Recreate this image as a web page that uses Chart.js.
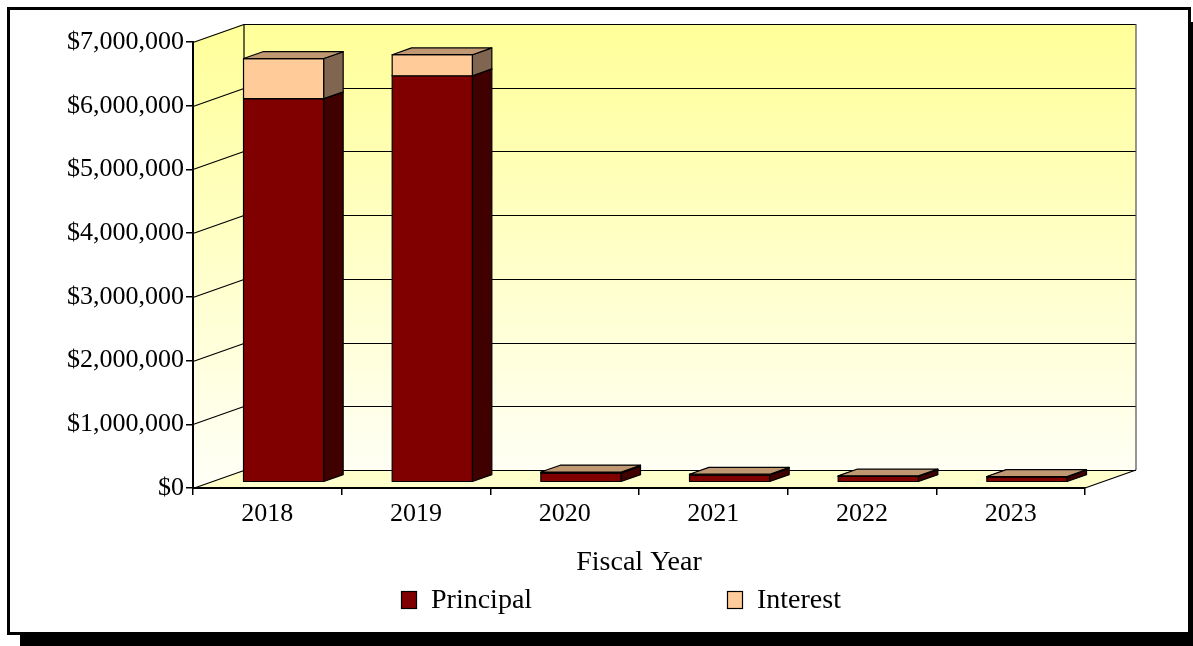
<!DOCTYPE html>
<html lang="en">
<head>
    <meta charset="UTF-8">
    <title>Debt Service by Fiscal Year</title>
    <script src="https://cdn.jsdelivr.net/npm/chart.js"></script>
    <style>
        body { margin: 0; background: #fff; }
        #myChart { display: block; }
    </style>
</head>
<body>
    <canvas id="myChart" width="1193" height="646"></canvas>

    <script>
        // fiscal years and payments
        const years = ['2018', '2019', '2020', '2021', '2022', '2023'];
        const principal = [6020000, 6380000, 148000, 116000, 92000, 85000];
        const interest = [630000, 330000, 12000, 10000, 8000, 5000];
        const yTicks = [0, 1000000, 2000000, 3000000, 4000000, 5000000, 6000000, 7000000];
        const seriesNames = ['Principal', 'Interest'];

        // depth of the 3-d box and where the bars sit inside it
        const DX = 51, DY = -18;
        const BAR_F0 = 0.32, BAR_F1 = 0.70;
        const FONT = 'Liberation Serif, Times New Roman, serif';

        function poly(ctx, pts, fill) {
            ctx.beginPath();
            ctx.moveTo(pts[0][0], pts[0][1]);
            for (let i = 1; i < pts.length; i++) ctx.lineTo(pts[i][0], pts[i][1]);
            ctx.closePath();
            if (fill) { ctx.fillStyle = fill; ctx.fill(); }
            ctx.stroke();
        }

        function line(ctx, x1, y1, x2, y2) {
            ctx.beginPath();
            ctx.moveTo(x1, y1);
            ctx.lineTo(x2, y2);
            ctx.stroke();
        }

        const box3d = {
            id: 'box3d',
            beforeDraw(chart) {
                const ctx = chart.ctx;
                const xs = chart.scales.x, ys = chart.scales.y;
                const L = xs.left, R = xs.right, T = ys.top, B = ys.bottom;

                ctx.save();
                // frame with drop shadow
                ctx.fillStyle = '#000';
                ctx.fillRect(20, 22, chart.width, chart.height);
                ctx.fillStyle = '#fff';
                ctx.fillRect(8, 8, 1181, 625);
                ctx.lineWidth = 3;
                ctx.strokeStyle = '#000';
                ctx.strokeRect(8.5, 8.5, 1181, 625);

                // walls
                ctx.lineWidth = 1;
                ctx.strokeStyle = 'rgba(0,0,0,0)';
                const g = ctx.createLinearGradient(0, T + DY, 0, B);
                g.addColorStop(0, '#FFFF99');
                g.addColorStop(1, '#FFFFF8');
                poly(ctx, [[L + DX, T + DY], [R + DX, T + DY], [R + DX, B + DY], [L + DX, B + DY]], g);
                poly(ctx, [[L, T], [L + DX, T + DY], [L + DX, B + DY], [L, B]], g);
                poly(ctx, [[L, B], [L + DX, B + DY], [R + DX, B + DY], [R, B]], '#FFFFCC');

                // gridlines on the side and back walls
                ctx.strokeStyle = '#000';
                ctx.lineWidth = 1.2;
                yTicks.forEach(v => {
                    const yy = Math.round(ys.getPixelForValue(v)) + 0.5;
                    line(ctx, L, yy, L + DX, yy + DY);
                    line(ctx, L + DX, yy + DY, R + DX, yy + DY);
                });
                line(ctx, L + DX, T + DY, L + DX, B + DY);
                line(ctx, R, B, R + DX, B + DY);
                ctx.strokeStyle = '#505050';
                line(ctx, R + DX, T + DY, R + DX, B + DY);
                ctx.restore();
            },
            beforeDatasetsDraw(chart) {
                const ctx = chart.ctx;
                ctx.save();
                ctx.strokeStyle = '#000';
                ctx.lineWidth = 1.2;
                ctx.lineJoin = 'round';
                const ddx = (BAR_F1 - BAR_F0) * DX, ddy = (BAR_F1 - BAR_F0) * DY;
                for (let i = 0; i < chart.data.labels.length; i++) {
                    chart.data.datasets.forEach((ds, d) => {
                        const el = chart.getDatasetMeta(d).data[i];
                        const w = el.width;
                        const x0 = el.x - w / 2 + BAR_F0 * DX;
                        const yb = el.base + BAR_F0 * DY;
                        const yt = el.y + BAR_F0 * DY;
                        poly(ctx, [[x0, yb], [x0 + w, yb], [x0 + w, yt], [x0, yt]], ds.backgroundColor);
                        poly(ctx, [[x0 + w, yb], [x0 + w + ddx, yb + ddy], [x0 + w + ddx, yt + ddy], [x0 + w, yt]], ds.sideColor);
                        poly(ctx, [[x0, yt], [x0 + w, yt], [x0 + w + ddx, yt + ddy], [x0 + ddx, yt + ddy]], ds.topColor);
                    });
                }
                ctx.restore();
                return false;
            },
            afterDraw(chart) {
                // legend under the axis title
                const ctx = chart.ctx;
                ctx.save();
                ctx.font = '28px ' + FONT;
                ctx.textBaseline = 'middle';
                ctx.lineWidth = 1.2;
                ctx.strokeStyle = '#000';
                chart.data.datasets.forEach((ds, d) => {
                    const x = 401 + d * 326, y = 600;
                    ctx.fillStyle = ds.backgroundColor;
                    ctx.fillRect(x, y - 9, 16, 18);
                    ctx.strokeRect(x + 0.5, y - 8.5, 15, 17);
                    ctx.fillStyle = '#000';
                    ctx.fillText(ds.label, x + 30, y + 1);
                });
                ctx.restore();
            }
        };

        const ctx = document.getElementById('myChart');
        const myChart = new Chart(ctx, {
            type: 'bar',
            data: {
                labels: years,
                datasets: [
                    { label: seriesNames[0], data: principal, backgroundColor: '#800000', sideColor: '#400000', topColor: '#600000' },
                    { label: seriesNames[1], data: interest, backgroundColor: '#FFCC99', sideColor: '#806650', topColor: '#C09973' }
                ]
            },
            options: {
                responsive: false,
                animation: false,
                devicePixelRatio: 1,
                layout: { padding: { left: 10, right: 108, top: 42, bottom: 67 } },
                datasets: { bar: { barPercentage: 0.54, categoryPercentage: 1 } },
                plugins: { legend: { display: false }, tooltip: { enabled: false } },
                scales: {
                    x: {
                        stacked: true,
                        grid: { drawOnChartArea: false, tickLength: 7, color: '#000', lineWidth: 1.5 },
                        border: { color: '#000', width: 2 },
                        ticks: { color: '#000', font: { family: FONT, size: 26 }, padding: 4 },
                        title: { display: true, text: 'Fiscal Year', color: '#000', font: { family: FONT, size: 28 }, padding: 0 },
                        afterFit(s) { s.height = 91; }
                    },
                    y: {
                        stacked: true,
                        min: 0,
                        max: 7000000,
                        grid: { drawOnChartArea: false, tickLength: 7, color: '#000', lineWidth: 1.5 },
                        border: { color: '#000', width: 2 },
                        ticks: {
                            color: '#000',
                            font: { family: FONT, size: 26 },
                            padding: 2,
                            callback: v => '$' + Number(v).toLocaleString('en-US')
                        },
                        afterBuildTicks(s) { s.ticks = yTicks.map(v => ({ value: v })); },
                        afterFit(s) { s.width = 183; }
                    }
                }
            },
            plugins: [box3d]
        });
    </script>
</body>
</html>
